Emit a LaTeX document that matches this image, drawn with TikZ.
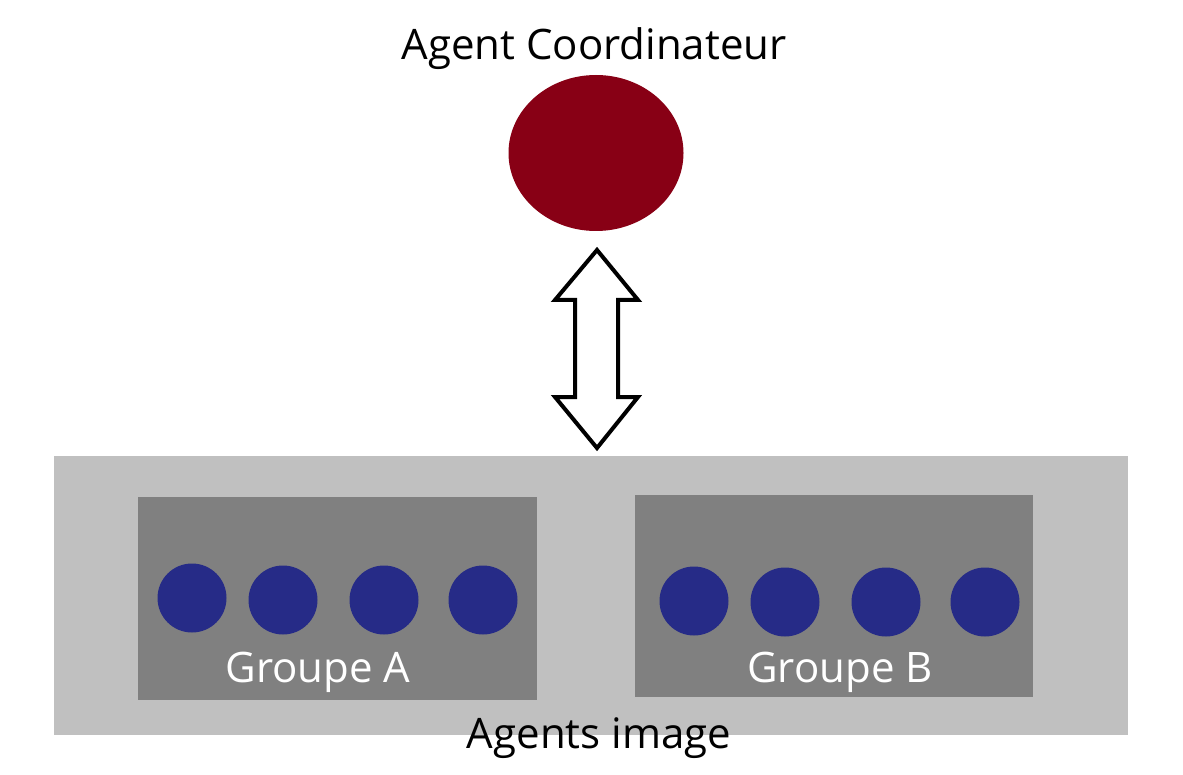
\documentclass[tikz,border=0pt]{standalone}
\usepackage{fontspec}
\setmainfont{Open Sans}
\usetikzlibrary{shapes.geometric}
\definecolor{coordred}{RGB}{136,0,21}
\definecolor{agentblue}{RGB}{38,43,135}
\definecolor{lightgr}{RGB}{192,192,192}
\definecolor{darkgr}{RGB}{128,128,128}
\begin{document}
\begin{tikzpicture}[x=1pt,y=-1pt,
  lbl/.style={font=\fontsize{42}{50}\selectfont, anchor=base, inner sep=0pt},
  agent/.style={circle, fill=agentblue, minimum size=69pt, inner sep=0pt},
  grp/.style={fill=darkgr, draw=none, inner sep=0pt, anchor=north west}]
\useasboundingbox (0,0) rectangle (1183,775);
\fill[white] (0,0) rectangle (1183,775);
% outer container
\node[fill=lightgr, inner sep=0pt, anchor=north west, minimum width=1074pt, minimum height=279pt] (outer) at (54,456) {};
% groups
\node[grp, minimum width=399pt, minimum height=203pt] (ga) at (138,497) {};
\node[grp, minimum width=398pt, minimum height=202pt] (gb) at (635,495) {};
% agents A
\node[agent] (a1) at (192,598) {};
\node[agent] (a2) at (283,600) {};
\node[agent] (a3) at (384,600) {};
\node[agent] (a4) at (483,600) {};
% agents B
\node[agent] (b1) at (694,601) {};
\node[agent] (b2) at (785,602) {};
\node[agent] (b3) at (886,602) {};
\node[agent] (b4) at (985,602) {};
% labels
\node[lbl, text=white] (la) at (318,682) {Groupe A};
\node[lbl, text=white] (lb) at (840,682) {Groupe B};
\node[lbl] (lagents) at (599,748) {Agents image};
\node[lbl] (lcoord) at (594,60) {Agent Coordinateur};
% coordinator
\node[ellipse, fill=coordred, minimum width=175pt, minimum height=156pt, inner sep=0pt] (coord) at (596,153) {};
% double arrow
\coordinate (top) at (597,250);
\coordinate (bot) at (597,448);
\draw[line width=4pt, line join=miter, fill=white]
  (top) -- (638,300) -- (618,300) -- (618,397) -- (638,397) -- (bot)
  -- (555,397) -- (575,397) -- (575,300) -- (555,300) -- cycle;
\end{tikzpicture}
\end{document}
